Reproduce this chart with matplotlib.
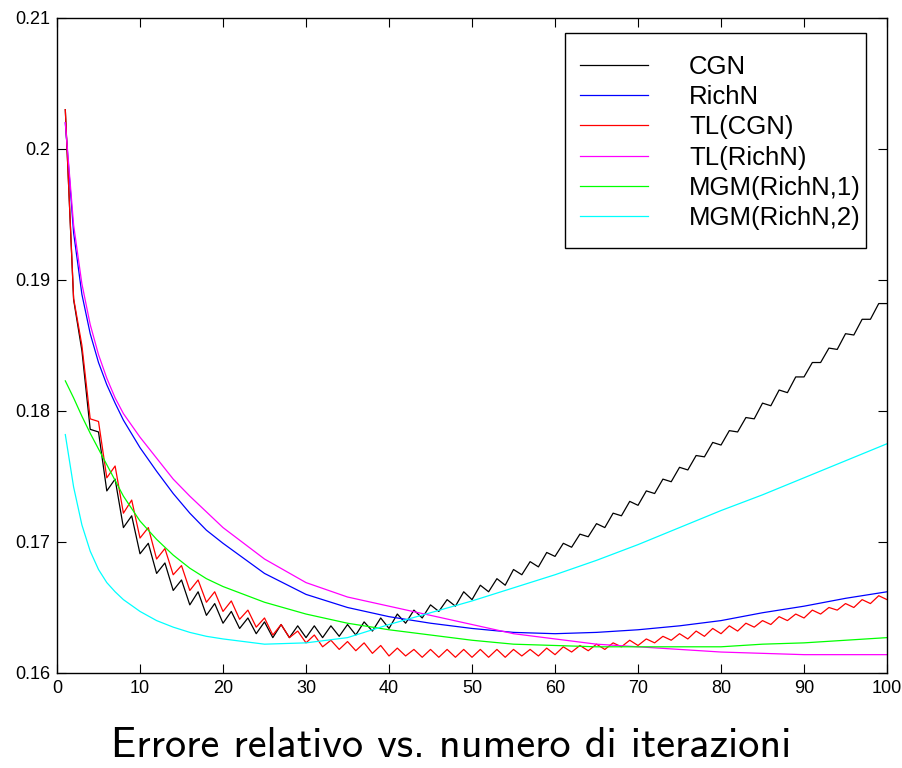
import matplotlib
matplotlib.use('Agg')
import matplotlib.pyplot as plt
from matplotlib.patches import Rectangle
import numpy as np

# iterations 1..100 for the two oscillating methods
iters = np.arange(1, 101)

cgn = [0.2030, 0.1885, 0.1846, 0.1786, 0.1784, 0.1739, 0.1748, 0.1711, 0.1720, 0.1691,
       0.1699, 0.1676, 0.1684, 0.1663, 0.1671, 0.1652, 0.1662, 0.1644, 0.1653, 0.1638,
       0.1647, 0.1634, 0.1642, 0.1630, 0.1639, 0.1627, 0.1637, 0.1627, 0.1636, 0.1627,
       0.1636, 0.1627, 0.1636, 0.1628, 0.1637, 0.1629, 0.1639, 0.1632, 0.1642, 0.1634,
       0.1645, 0.1638, 0.1648, 0.1642, 0.1652, 0.1647, 0.1656, 0.1651, 0.1662, 0.1656,
       0.1667, 0.1662, 0.1672, 0.1667, 0.1679, 0.1675, 0.1685, 0.1681, 0.1692, 0.1689,
       0.1699, 0.1696, 0.1706, 0.1704, 0.1714, 0.1711, 0.1722, 0.1720, 0.1731, 0.1728,
       0.1739, 0.1737, 0.1748, 0.1746, 0.1757, 0.1755, 0.1766, 0.1765, 0.1776, 0.1774,
       0.1785, 0.1784, 0.1795, 0.1794, 0.1806, 0.1804, 0.1816, 0.1814, 0.1826, 0.1826,
       0.1837, 0.1837, 0.1848, 0.1847, 0.1859, 0.1858, 0.1870, 0.1870, 0.1882, 0.1882]

tl_cgn = [0.2030, 0.1886, 0.1850, 0.1794, 0.1792, 0.1749, 0.1758, 0.1722, 0.1732, 0.1703,
          0.1711, 0.1687, 0.1695, 0.1675, 0.1682, 0.1663, 0.1671, 0.1654, 0.1662, 0.1647,
          0.1655, 0.1641, 0.1648, 0.1635, 0.1642, 0.1629, 0.1637, 0.1627, 0.1632, 0.1623,
          0.1629, 0.1620, 0.1625, 0.1618, 0.1624, 0.1617, 0.1623, 0.1615, 0.1621, 0.1613,
          0.1619, 0.1613, 0.1618, 0.1612, 0.1618, 0.1612, 0.1618, 0.1612, 0.1618, 0.1612,
          0.1618, 0.1612, 0.1618, 0.1612, 0.1618, 0.1613, 0.1618, 0.1613, 0.1619, 0.1614,
          0.1620, 0.1616, 0.1621, 0.1617, 0.1622, 0.1618, 0.1623, 0.1620, 0.1625, 0.1621,
          0.1626, 0.1623, 0.1628, 0.1625, 0.1630, 0.1626, 0.1632, 0.1628, 0.1634, 0.1630,
          0.1636, 0.1632, 0.1638, 0.1635, 0.1640, 0.1637, 0.1643, 0.1640, 0.1645, 0.1642,
          0.1648, 0.1645, 0.1650, 0.1648, 0.1653, 0.1650, 0.1656, 0.1653, 0.1659, 0.1656]

# the smooth methods, sampled at fewer iterations
smooth_it = [1, 2, 3, 4, 5, 6, 7, 8, 10, 12, 14, 16, 18, 20, 25, 30, 35, 40, 45, 50,
             55, 60, 65, 70, 75, 80, 85, 90, 95, 100]

rich_n = [0.2020, 0.1936, 0.1889, 0.1859, 0.1837, 0.1820, 0.1806, 0.1793, 0.1772, 0.1754,
          0.1737, 0.1722, 0.1709, 0.1699, 0.1676, 0.1660, 0.1650, 0.1643, 0.1638, 0.1634,
          0.1631, 0.1630, 0.1631, 0.1633, 0.1636, 0.1640, 0.1646, 0.1651, 0.1657, 0.1662]

tl_rich_n = [0.2020, 0.1942, 0.1897, 0.1866, 0.1843, 0.1825, 0.1810, 0.1798, 0.1780, 0.1764,
             0.1748, 0.1735, 0.1723, 0.1711, 0.1687, 0.1669, 0.1658, 0.1651, 0.1644, 0.1637,
             0.1630, 0.1626, 0.1622, 0.1620, 0.1618, 0.1616, 0.1615, 0.1614, 0.1614, 0.1614]

mgm_1 = [0.1823, 0.1810, 0.1796, 0.1783, 0.1771, 0.1759, 0.1747, 0.1735, 0.1716, 0.1702,
         0.1690, 0.1680, 0.1672, 0.1666, 0.1654, 0.1645, 0.1638, 0.1633, 0.1629, 0.1625,
         0.1622, 0.1621, 0.1620, 0.1620, 0.1620, 0.1620, 0.1622, 0.1623, 0.1625, 0.1627]

mgm_2 = [0.1782, 0.1742, 0.1713, 0.1693, 0.1679, 0.1669, 0.1662, 0.1656, 0.1647, 0.1640,
         0.1635, 0.1631, 0.1628, 0.1626, 0.1622, 0.1623, 0.1627, 0.1637, 0.1646, 0.1655,
         0.1665, 0.1675, 0.1686, 0.1698, 0.1711, 0.1724, 0.1736, 0.1749, 0.1762, 0.1775]

labels = ['CGN', 'RichN', 'TL(CGN)', 'TL(RichN)', 'MGM(RichN,1)', 'MGM(RichN,2)']
colors = ['#000000', '#0000ff', '#ff0000', '#ff00ff', '#00ff00', '#00ffff']

x_ticks = list(range(0, 101, 10))
y_ticks = [0.16, 0.17, 0.18, 0.19, 0.2, 0.21]
y_tick_labels = ['0.16', '0.17', '0.18', '0.19', '0.2', '0.21']

plt.rcParams['font.family'] = ['Liberation Sans', 'DejaVu Sans']

fig = plt.figure(figsize=(9.02, 7.68), dpi=100)
ax = fig.add_axes([0.0632, 0.1237, 0.9202, 0.8529])

series = [(iters, cgn), (smooth_it, rich_n), (iters, tl_cgn),
          (smooth_it, tl_rich_n), (smooth_it, mgm_1), (smooth_it, mgm_2)]
for (xs, ys), lab, col in zip(series, labels, colors):
    ax.plot(xs, ys, color=col, lw=0.9, label=lab)

ax.set_xlim(0, 100)
ax.set_ylim(0.16, 0.21)
ax.set_xticks(x_ticks)
ax.set_yticks(y_ticks)
ax.set_yticklabels(y_tick_labels)
ax.tick_params(direction='in', length=6.5, width=0.8, top=True, right=True,
               labelsize=13, pad=5)
for sp in ax.spines.values():
    sp.set_linewidth(1.0)

# legend box drawn separately so the padding can be uneven
box = Rectangle((565 / 902, 1 - 248 / 768), 301 / 902, 215 / 768,
                transform=fig.transFigure, facecolor='white', edgecolor='k',
                lw=1.0, zorder=4)
ax.add_artist(box)
leg = ax.legend(loc='upper left', bbox_to_anchor=(580 / 902, 1 - 55 / 768),
                bbox_transform=fig.transFigure, borderaxespad=0, borderpad=0,
                fontsize=18.5, frameon=False, handlelength=2.65,
                handletextpad=1.6, labelspacing=0.24)
leg.set_zorder(5)

fig.text(0.5, 0.014, 'Errore relativo vs. numero di iterazioni',
         family='cmss10', fontsize=30.5, ha='center', va='baseline')

fig.savefig('out.png', dpi=100)
